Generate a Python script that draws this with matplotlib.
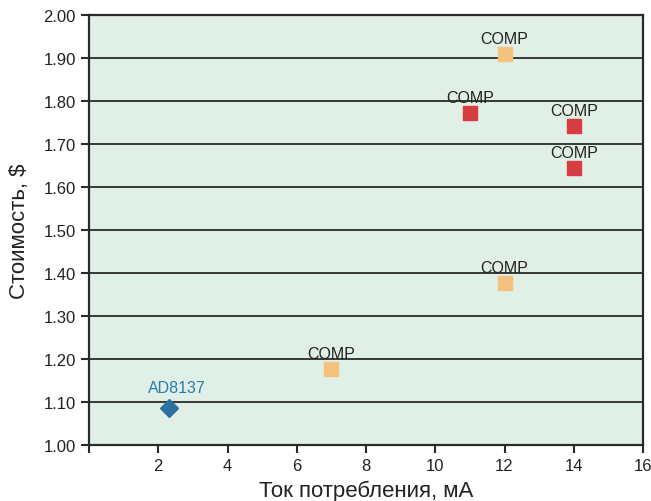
import matplotlib
matplotlib.use("Agg")
import matplotlib.pyplot as plt

plt.rcParams['font.family'] = ['Liberation Sans', 'DejaVu Sans']

# Data
ad_current = [2.3]
ad_cost = [1.085]
ad_label = "AD8137"

comp_orange_current = [7.0, 12.0, 12.0]
comp_orange_cost = [1.177, 1.377, 1.909]

comp_red_current = [11.0, 14.0, 14.0]
comp_red_cost = [1.772, 1.742, 1.644]

comp_label = "COMP"

x_ticks = [0, 2, 4, 6, 8, 10, 12, 14, 16]
x_ticklabels = ["", "2", "4", "6", "8", "10", "12", "14", "16"]
y_ticks = [1.00, 1.10, 1.20, 1.30, 1.40, 1.50, 1.60, 1.70, 1.80, 1.90, 2.00]

fig = plt.figure(figsize=(6.51, 5.02), dpi=100)
ax = fig.add_axes([89/651, 1-446/502, (643-89)/651, (446-16)/502])
ax.set_facecolor('#e1f0e6')

ax.set_xlim(0, 16)
ax.set_ylim(1.0, 2.0)

for y in y_ticks[1:-1]:
    ax.axhline(y, color='#2a2a2a', lw=1.3, zorder=1)

ax.plot(comp_orange_current, comp_orange_cost, 's', color='#f4c27c', ms=9.5, zorder=3, ls='none')
ax.plot(comp_red_current, comp_red_cost, 's', color='#d63d40', ms=9.5, zorder=3, ls='none')
ax.plot(ad_current, ad_cost, 'D', color='#2b72a2', ms=9, zorder=3, ls='none')

for x, y in zip(comp_orange_current + comp_red_current, comp_orange_cost + comp_red_cost):
    ax.annotate(comp_label, (x, y), xytext=(0, 6), textcoords='offset points',
                ha='center', va='bottom', fontsize=11.5, color='#222222')
ax.annotate(ad_label, (ad_current[0], ad_cost[0]), xytext=(6, 10), textcoords='offset points',
            ha='center', va='bottom', fontsize=11.5, color='#2b7bb0')

ax.set_xticks(x_ticks)
ax.set_xticklabels(x_ticklabels)
ax.set_yticks(y_ticks)
ax.set_yticklabels([f"{v:.2f}" for v in y_ticks])
ax.tick_params(direction='out', length=6, width=1.5, colors='#2a2a2a', labelsize=12, labelcolor='#222222')
for s in ax.spines.values():
    s.set_color('#2a2a2a')
    s.set_linewidth(1.6)

ax.set_xlabel("Ток потребления, мА", fontsize=16, color='#222222', labelpad=5)
ax.set_ylabel("Стоимость, $", fontsize=16, color='#222222', labelpad=10)

fig.savefig("out.png", dpi=100)
